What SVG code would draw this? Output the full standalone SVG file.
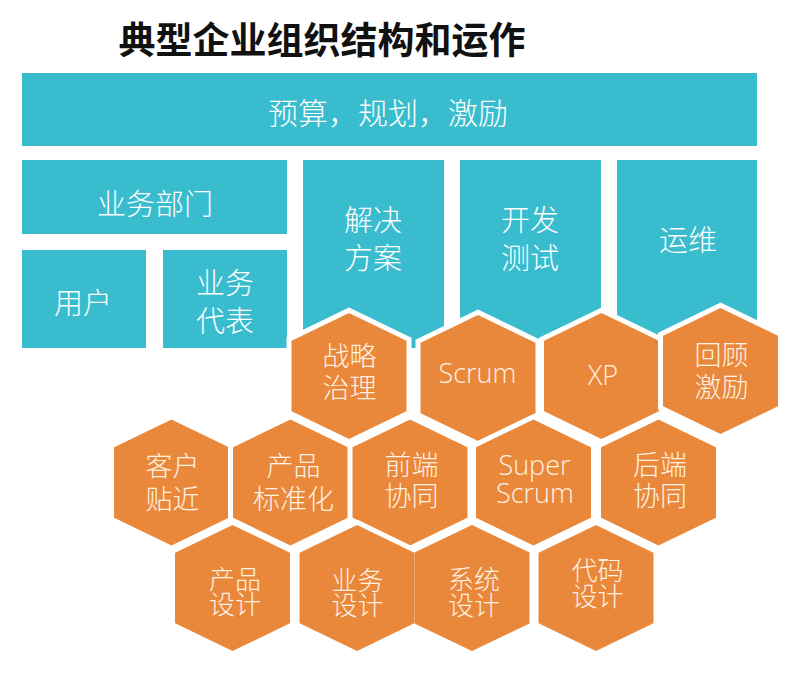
<svg xmlns="http://www.w3.org/2000/svg" xmlns:xlink="http://www.w3.org/1999/xlink" width="812" height="680" viewBox="0 0 812 680">
<style>
.bg{fill:#ffffff}
.box{fill:#39bcce}
.hex{fill:#e9883a;stroke:#ffffff;stroke-width:5;stroke-linejoin:miter}
.hexn{fill:#e9883a}
.title{font-family:"Noto Sans CJK SC","Noto Sans CJK TC",sans-serif;font-weight:700;font-size:37px;fill:#111111;text-anchor:middle}
.bt{font-family:"Open Sans","Noto Sans CJK SC",sans-serif;font-weight:300;font-size:29px;fill:#ffffff;text-anchor:middle}
.ht{font-family:"Open Sans","Noto Sans CJK SC",sans-serif;font-weight:300;font-size:27px;fill:#fff1e2;text-anchor:middle}
.ht3{font-size:26px}
</style>
<defs>
<polygon id="hx" points="0,-65.8 60,-36.8 60,36.8 0,65.8 -60,36.8 -60,-36.8"/>
<polygon id="hxv" points="0,-63 57.5,-35.5 57.5,35.5 0,63 -57.5,35.5 -57.5,-35.5"/>
</defs>
<rect class="bg" x="0" y="0" width="812" height="680"/>
<g id="title"><text class="title" x="322" y="54">典型企业组织结构和运作</text></g>

<g id="budget"><rect class="box" x="22" y="73" width="735" height="73"/><text class="bt" x="388" y="124" style="font-size:30px">预算，规划，激励</text></g>
<g id="bizdept"><rect class="box" x="22" y="160" width="265" height="74"/><text class="bt" x="155" y="215">业务部门</text></g>
<g id="user"><rect class="box" x="22" y="250" width="124" height="98"/><text class="bt" x="83" y="314">用户</text></g>
<g id="bizrep"><rect class="box" x="163" y="250" width="124" height="98"/><text class="bt" x="225" y="294">业务</text><text class="bt" x="225" y="332">代表</text></g>
<g id="solution"><rect class="box" x="303" y="160" width="141" height="188"/><text class="bt" x="373" y="231">解决</text><text class="bt" x="373" y="269">方案</text></g>
<g id="devtest"><rect class="box" x="460" y="160" width="141" height="188"/><text class="bt" x="530" y="231">开发</text><text class="bt" x="530" y="269">测试</text></g>
<g id="ops"><rect class="box" x="617" y="160" width="140" height="188"/><text class="bt" x="688" y="251">运维</text></g>

<g id="connectors"></g>

<g id="strategy"><use xlink:href="#hx" href="#hx" class="hex" x="349" y="376"/><text class="ht" x="349.5" y="366">战略</text><text class="ht" x="349.5" y="398">治理</text></g>
<g id="scrum"><use xlink:href="#hx" href="#hx" class="hex" x="478" y="378"/><text class="ht" x="477.5" y="383">Scrum</text></g>
<g id="xp"><use xlink:href="#hx" href="#hx" class="hex" x="601.5" y="376"/><text class="ht" x="603" y="385">XP</text></g>
<g id="retro"><use xlink:href="#hx" href="#hx" class="hex" x="720.5" y="371"/><text class="ht" x="721.5" y="365">回顾</text><text class="ht" x="721.5" y="397">激励</text></g>

<g id="customer"><use xlink:href="#hx" href="#hx" class="hex" x="171.5" y="482.5"/><text class="ht" x="172.5" y="476">客户</text><text class="ht" x="172.5" y="509">贴近</text></g>
<g id="productstd"><use xlink:href="#hx" href="#hx" class="hex" x="290.5" y="482.5"/><text class="ht" x="293.5" y="476">产品</text><text class="ht" x="293.5" y="509">标准化</text></g>
<g id="frontend"><use xlink:href="#hx" href="#hx" class="hex" x="410" y="482.5"/><text class="ht" x="411.5" y="475">前端</text><text class="ht" x="411.5" y="506">协同</text></g>
<g id="superscrum"><use xlink:href="#hx" href="#hx" class="hex" x="533.5" y="482.5"/><text class="ht" x="534.5" y="475">Super</text><text class="ht" x="535" y="503">Scrum</text></g>
<g id="backend"><use xlink:href="#hx" href="#hx" class="hex" x="658.5" y="482.5"/><text class="ht" x="660" y="475">后端</text><text class="ht" x="660" y="506">协同</text></g>

<g id="productdesign"><use xlink:href="#hx" href="#hx" class="hex" x="232.5" y="588"/><text class="ht ht3" x="235" y="589">产品</text><text class="ht ht3" x="235" y="614">设计</text></g>
<g id="bizdesign"><use xlink:href="#hx" href="#hx" class="hex" x="357" y="588"/><text class="ht ht3" x="357.5" y="590">业务</text><text class="ht ht3" x="357.5" y="615">设计</text></g>
<g id="sysdesign"><use xlink:href="#hxv" href="#hxv" class="hexn" x="472" y="588"/><text class="ht ht3" x="474" y="589">系统</text><text class="ht ht3" x="474" y="615">设计</text></g>
<g id="codedesign"><use xlink:href="#hx" href="#hx" class="hex" x="596" y="588"/><text class="ht ht3" x="597.5" y="580">代码</text><text class="ht ht3" x="597.5" y="606">设计</text></g>
</svg>
